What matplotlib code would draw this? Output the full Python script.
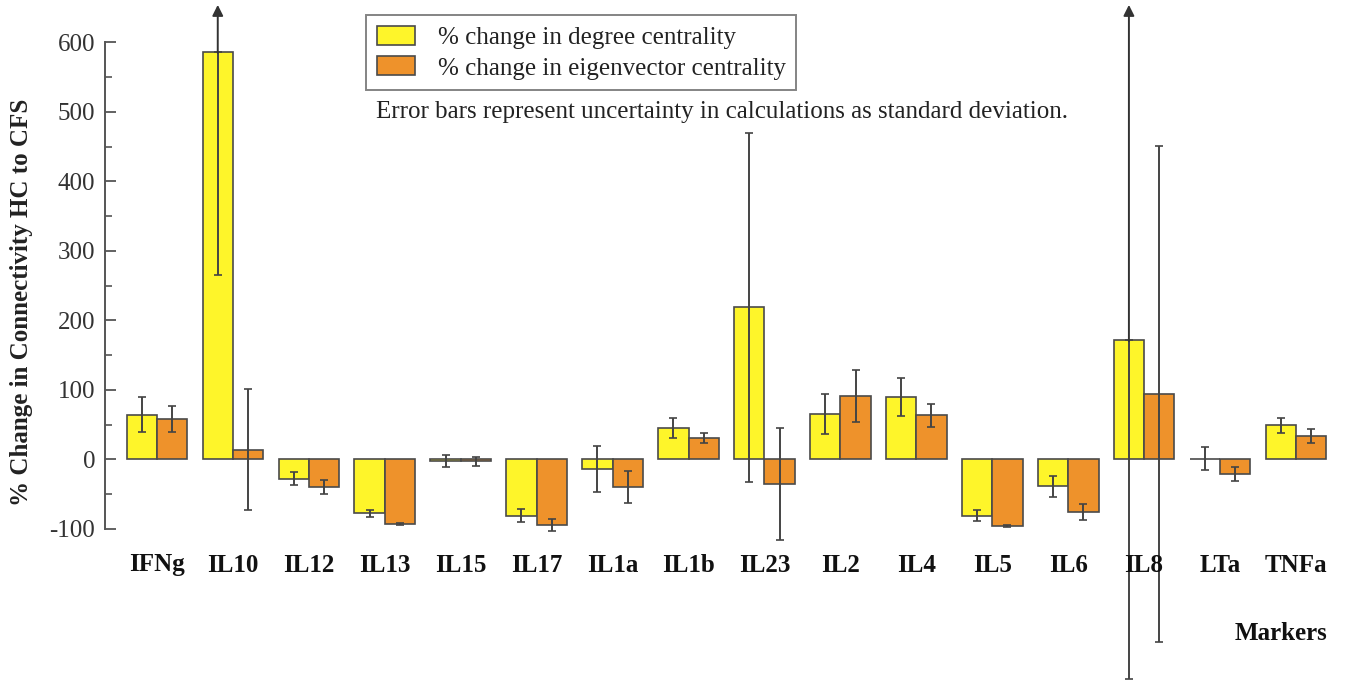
import matplotlib
matplotlib.use("Agg")
import matplotlib.pyplot as plt
import matplotlib.transforms as mtransforms
from matplotlib.ticker import FixedLocator
import numpy as np

markers = ['IFNg', 'IL10', 'IL12', 'IL13', 'IL15', 'IL17', 'IL1a', 'IL1b',
           'IL23', 'IL2', 'IL4', 'IL5', 'IL6', 'IL8', 'LTa', 'TNFa']
degree = [64, 586, -28, -78, -3, -81, -14, 45, 219, 65, 90, -81, -39, 171, 0.5, 49]
degree_sd = [25, 321, 9.5, 5.5, 8.5, 9.5, 33, 15, 251, 29, 27.5, 8, 15.5, 487, 16.5, 10.5]
eigen = [58, 14, -40, -93.5, -3, -94.5, -40, 31, -35.5, 91, 63, -95.5, -76, 94, -21, 34]
eigen_sd = [19, 86.5, 10.5, 1.5, 6, 9, 23.5, 7, 80, 37, 17, 1.5, 11, 357, 10, 10]
yticks = [-100, 0, 100, 200, 300, 400, 500, 600]
yminor = [-50, 50, 150, 250, 350, 450, 550]
legend_labels = ['% change in degree centrality', '% change in eigenvector centrality']
note = 'Error bars represent uncertainty in calculations as standard deviation.'
ylabel = '% Change in Connectivity HC to CFS'
xlabel = 'Markers'

plt.rcParams['font.family'] = ['Liberation Serif', 'DejaVu Serif']
plt.rcParams['axes.unicode_minus'] = False

W, H = 1345, 683
fig = plt.figure(figsize=(W / 100, H / 100), dpi=100)
ax = fig.add_axes([105 / W, 0, 1 - 105 / W, 1])

YEL = '#fef52a'
ORA = '#ee922b'
EDGE = '#4a4a4a'
ERR = '#444444'
ytop = 661
arrow_tip = 654
FS = 18

x = np.arange(len(markers))
bw = 0.4
b1 = ax.bar(x - bw / 2, degree, bw, color=YEL, edgecolor=EDGE, linewidth=1.2,
            label=legend_labels[0], zorder=2)
b2 = ax.bar(x + bw / 2, eigen, bw, color=ORA, edgecolor=EDGE, linewidth=1.2,
            label=legend_labels[1], zorder=2)

for xs, vals, sds in [(x - bw / 2, degree, degree_sd), (x + bw / 2, eigen, eigen_sd)]:
    for xi, v, s in zip(xs, vals, sds):
        if v + s > 600:
            ax.errorbar([xi], [v], yerr=[[s], [0]], fmt='none', ecolor=ERR,
                        elinewidth=1.4, capsize=3, capthick=1.2, zorder=3, clip_on=False)
            ax.annotate('', xy=(xi, arrow_tip), xytext=(xi, v - 1),
                        arrowprops=dict(arrowstyle='-|>', color='#333333', lw=1.4,
                                        mutation_scale=16, shrinkA=0, shrinkB=0),
                        zorder=3, annotation_clip=False)
        else:
            ax.errorbar([xi], [v], yerr=[[s], [s]], fmt='none', ecolor=ERR,
                        elinewidth=1.4, capsize=3, capthick=1.2, zorder=3, clip_on=False)

ax.set_xlim(-0.685, -0.685 + (W - 105) / 75.93)
ax.set_ylim(-322, ytop)
for sp in ['top', 'right', 'bottom']:
    ax.spines[sp].set_visible(False)
ax.spines['left'].set_bounds(-100, 600)
ax.spines['left'].set_color('#555555')
ax.spines['left'].set_linewidth(1.4)
ax.set_yticks(yticks)
ax.yaxis.set_minor_locator(FixedLocator(yminor))
ax.tick_params(axis='y', which='major', direction='in', length=8, width=1.3,
               color='#555555', labelsize=FS, pad=7, labelcolor='#333333')
ax.tick_params(axis='y', which='minor', direction='in', length=5, width=1.2, color='#555555')
ax.set_xticks([])
ax.patch.set_alpha(0)

trans = mtransforms.blended_transform_factory(ax.transData, ax.transAxes)
for xi, m in zip(x, markers):
    ax.text(xi, 1 - 565 / H, m, transform=trans, ha='center', va='center',
            fontsize=FS, fontweight='bold', color='#111111')

fig.text(1327 / W, 1 - 633 / H, xlabel, ha='right', va='center',
         fontsize=FS, fontweight='bold', color='#111111')
fig.text(22 / W, 1 - 302 / H, ylabel, rotation=90, ha='center', va='center',
         fontsize=FS, fontweight='bold', color='#222222')
fig.text(376 / W, 1 - 112 / H, note, ha='left', va='center', fontsize=FS, color='#222222')

leg = fig.legend(handles=[b1, b2], loc='upper left', bbox_to_anchor=(366 / W, 1 - 15 / H),
                 fontsize=FS, frameon=True, fancybox=False, handlelength=1.55,
                 handleheight=0.8, handletextpad=0.9, labelspacing=0.3,
                 borderpad=0.42, borderaxespad=0)
leg.get_frame().set_edgecolor('#666666')
leg.get_frame().set_linewidth(1.4)
for t in leg.get_texts():
    t.set_color('#222222')

fig.savefig('out.png', dpi=100)
